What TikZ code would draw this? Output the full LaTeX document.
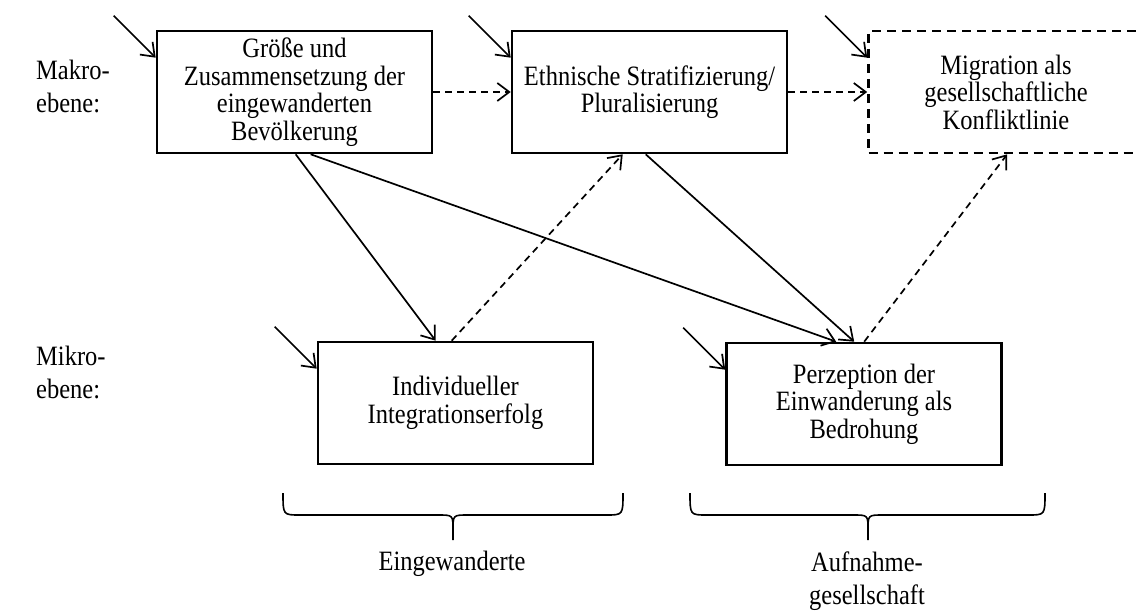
\documentclass[tikz,border=0pt]{standalone}
\usepackage{fontspec}
\setmainfont{Liberation Serif}
\newfontfamily\narrowserif[FakeStretch=0.875]{Liberation Serif}
\usetikzlibrary{arrows.meta,calc}
\begin{document}
\begin{tikzpicture}[x=1pt,y=-1pt,
  box/.style={draw,line width=2.6pt,minimum width=275pt,minimum height=122pt,align=center,inner sep=0pt,font=\narrowserif\fontsize{28}{27.5}\selectfont},
  dbox/.style={box,dash pattern=on 9pt off 6pt},
  arr/.style={line width=1.7pt,-{Straight Barb[length=12pt,width=18pt,line width=1.7pt]}},
  darr/.style={arr,dash pattern=on 7pt off 5pt},
  lab/.style={font=\narrowserif\fontsize{28}{33}\selectfont,inner sep=0pt},
  brace/.style={line width=1.6pt}]
\useasboundingbox (0,0) rectangle (1137,610);

\node[box] (b1) at (294.5,92) {Größe und\\Zusammensetzung der\\eingewanderten\\Bevölkerung};
\node[box] (b2) at (649.5,92) {Ethnische Stratifizierung/\\Pluralisierung};
\node[dbox] (b3) at (1006,92) {Migration als\\gesellschaftliche\\Konfliktlinie};
\node[box] (b4) at (455.5,403) {Individueller\\Integrationserfolg};
\node[box] (b5) at (864,404) {Perzeption der\\Einwanderung als\\Bedrohung};

\node[lab,anchor=west,align=left] (makro) at (36,86) {Makro-\\ebene:};
\node[lab,anchor=west,align=left] (mikro) at (36,372) {Mikro-\\ebene:};
\node[lab] (eing) at (452,564) {Eingewanderte};
\node[lab,align=center] (aufn) at (867,581) {Aufnahme-\\gesellschaft};

% incoming short arrows
\foreach \b in {b1,b2,b3,b4,b5}{
  \coordinate (s\b) at ($(\b.north west)+(-42,-14)$);
  \draw[arr] (s\b) -- ($(\b.north west)+(0,28)$);
}

% connectors
\draw[darr] (b1.east) -- (b2.west);
\draw[darr] (b2.east) -- (b3.west);
\draw[arr] ($(b1.south west)+(140,0)$) -- ($(b4.north west)+(119,0)$);
\draw[arr] ($(b1.south west)+(155,0)$) -- ($(b5.north west)+(111,0)$);
\draw[darr] ($(b4.north west)+(135,0)$) -- ($(b2.south west)+(112,0)$);
\draw[arr] ($(b2.south west)+(135,0)$) -- ($(b5.north west)+(129,0)$);
\draw[darr] ($(b5.north west)+(139,0)$) -- ($(b3.south west)+(140,0)$);

% braces
\draw[brace] (283,493) .. controls (283,515) .. (300,515) -- (438,515) .. controls (453,515) .. (453,530) -- (453,540);
\draw[brace] (623,493) .. controls (623,515) .. (606,515) -- (468,515) .. controls (453,515) .. (453,530);
\draw[brace] (690,493) .. controls (690,515) .. (707,515) -- (853,515) .. controls (868,515) .. (868,530) -- (868,540);
\draw[brace] (1045,493) .. controls (1045,515) .. (1028,515) -- (883,515) .. controls (868,515) .. (868,530);
\end{tikzpicture}
\end{document}
